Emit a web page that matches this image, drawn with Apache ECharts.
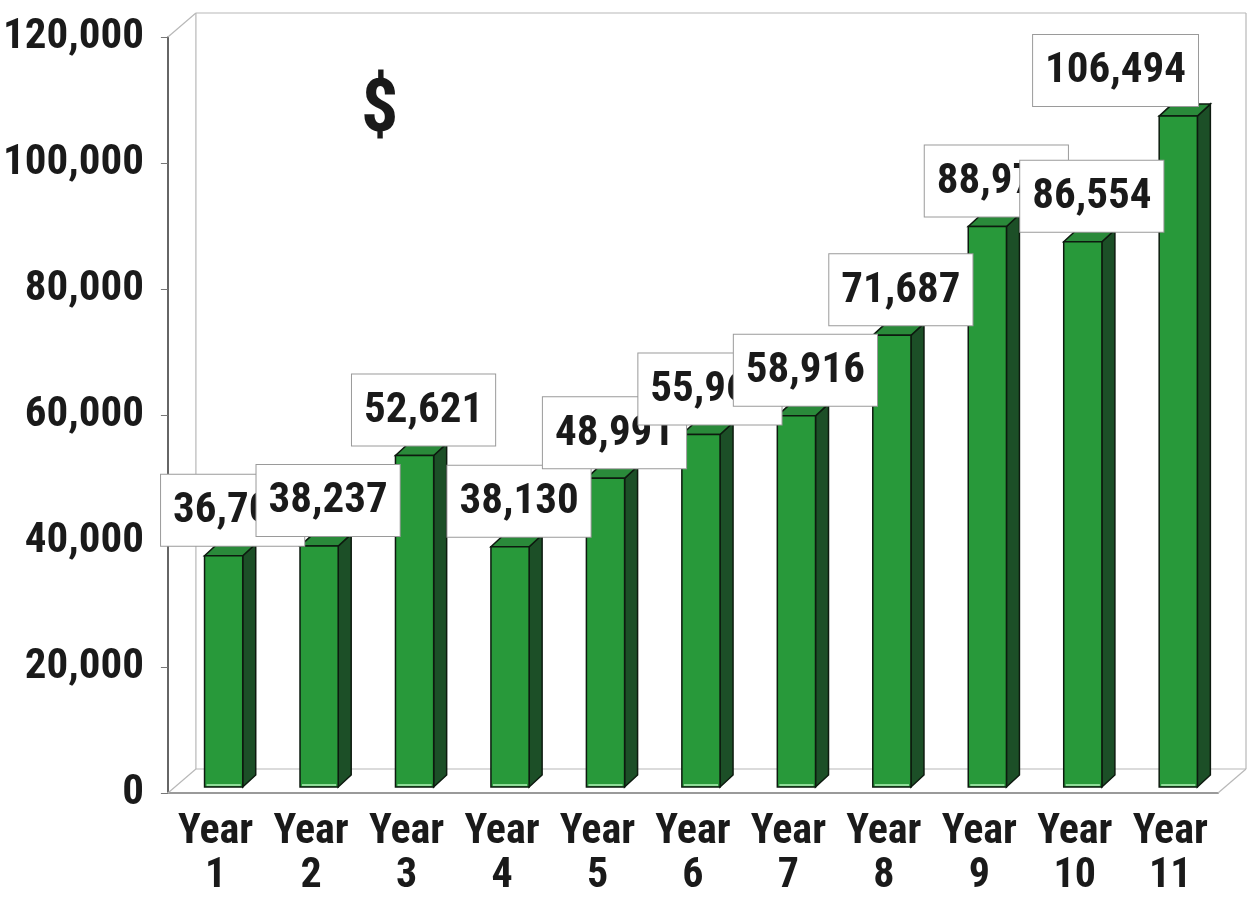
<!DOCTYPE html>
<html>
<head>
<meta charset="utf-8">
<script src="https://cdn.jsdelivr.net/npm/echarts@6/dist/echarts.min.js"></script>
<style>html,body{margin:0;padding:0;background:#fff;}#c{width:1251px;height:899px;}</style>
</head>
<body>
<div id="c"></div>
<script>
var categories = ['Year\n1','Year\n2','Year\n3','Year\n4','Year\n5','Year\n6','Year\n7','Year\n8','Year\n9','Year\n10','Year\n11'];
var values = [36700, 38237, 52621, 38130, 48991, 55960, 58916, 71687, 88976, 86554, 106494];
var yTicks = [0, 20000, 40000, 60000, 80000, 100000, 120000];

var FONT = "'Liberation Sans Narrow','Arial Narrow','Roboto Condensed',sans-serif";
var DX = 28, DY = -24;
var measureCtx = document.createElement('canvas').getContext('2d');
function textW(t, size){ measureCtx.font = 'bold ' + size + 'px ' + FONT; return measureCtx.measureText(t).width; }
function fmt(v){ return v.toLocaleString('en-US'); }

var chart = echarts.init(document.getElementById('c'));

function renderFrame(params, api){
  var cs = params.coordSys;
  var gx = cs.x, gy = cs.y, gw = cs.width, gh = cs.height;
  var st = {stroke:'#b8b8b8', lineWidth:1.2, fill:null};
  function ln(x1,y1,x2,y2){ return {type:'line', shape:{x1:x1,y1:y1,x2:x2,y2:y2}, style:st, silent:true}; }
  return {type:'group', children:[
    ln(gx+DX, gy+DY, gx+gw+DX, gy+DY),
    ln(gx+DX, gy+DY, gx+DX, gy+gh+DY),
    ln(gx+gw+DX, gy+DY, gx+gw+DX, gy+gh+DY),
    ln(gx+DX, gy+gh+DY, gx+gw+DX, gy+gh+DY),
    ln(gx, gy, gx+DX, gy+DY),
    ln(gx, gy+gh, gx+DX, gy+gh+DY),
    ln(gx+gw, gy+gh, gx+gw+DX, gy+gh+DY)
  ]};
}

function renderBar(params, api){
  var i = api.value(0), v = api.value(1);
  var base = api.coord([i, 0]), top = api.coord([i, v]);
  var bw = api.size([1,0])[0] * 0.40;
  var ox = 8, oy = -6, dx = 13, dy = -12;
  var cx = base[0] + ox;
  var x0 = cx - bw/2, x1 = cx + bw/2, yb = base[1] + oy, yt = top[1] + oy;
  var edge = {stroke:'#0d1a0f', lineWidth:1.5};
  return {type:'group', children:[
    {type:'polygon', shape:{points:[[x1,yb],[x1+dx,yb+dy],[x1+dx,yt+dy],[x1,yt]]}, style:Object.assign({fill:'#1c4f27'}, edge)},
    {type:'polygon', shape:{points:[[x0,yt],[x1,yt],[x1+dx,yt+dy],[x0+dx,yt+dy]]}, style:Object.assign({fill:'#2a8a3a'}, edge)},
    {type:'rect', shape:{x:x0, y:yt, width:bw, height:yb-yt}, style:Object.assign({fill:'#28993a'}, edge)},
    {type:'line', shape:{x1:x0+2, y1:yb-2, x2:x1-2, y2:yb-2}, style:{stroke:'#8fdc98', lineWidth:2}}
  ]};
}

function renderLabel(params, api){
  var i = api.value(0), v = api.value(1);
  var cs = params.coordSys;
  var base = api.coord([i, 0]), top = api.coord([i, v]);
  var txt = fmt(v);
  var w = textW(txt, 43) + 24;
  var cx = base[0] + 17;
  var right = cs.x + cs.width - 20;
  if (cx + w/2 > right) cx = right - w/2;
  var y = top[1] - 6 - 10;
  return {type:'text', z2:100, x:cx, y:y, style:{
    text:txt, font:'bold 43px ' + FONT, fill:'#1a1a1a', align:'center', verticalAlign:'bottom',
    backgroundColor:'#fff', borderColor:'#9a9a9a', borderWidth:1, padding:[15,12,13,12]
  }};
}

var barData = values.map(function(v, i){ return [i, v]; });

chart.setOption({
  animation:false,
  backgroundColor:'#fff',
  title:{text:'$', left:356, top:70, textStyle:{fontSize:74, fontWeight:'bold', fontFamily:FONT, color:'#1a1a1a'}},
  grid:{left:162, right:33, top:37, bottom:106, containLabel:false},
  xAxis:{type:'category', data:categories,
    axisLine:{lineStyle:{color:'#9a9a9a', width:2}},
    axisTick:{length:10, lineStyle:{color:'#9a9a9a', width:1.5}},
    axisLabel:{fontFamily:FONT, fontSize:42, fontWeight:'bold', color:'#1a1a1a', lineHeight:44, margin:17, interval:0},
    splitLine:{show:false}},
  yAxis:{type:'value', min:0, max:120000, interval:20000,
    axisLine:{show:true, lineStyle:{color:'#333', width:1.5}},
    axisTick:{show:true, length:7, lineStyle:{color:'#777'}},
    axisLabel:{fontFamily:FONT, fontSize:43, fontWeight:'bold', color:'#1a1a1a', margin:24,
      formatter:function(v){ return yTicks.indexOf(v) >= 0 ? fmt(v) : ''; }},
    splitLine:{show:false}},
  series:[
    {type:'custom', z:1, clip:false, data:[[0,0]], renderItem:renderFrame, silent:true},
    {type:'custom', z:2, clip:false, data:barData, renderItem:renderBar, encode:{x:0,y:1}},
    {type:'custom', z:3, clip:false, data:barData, renderItem:renderLabel, encode:{x:0,y:1}}
  ]
});
</script>
</body>
</html>
